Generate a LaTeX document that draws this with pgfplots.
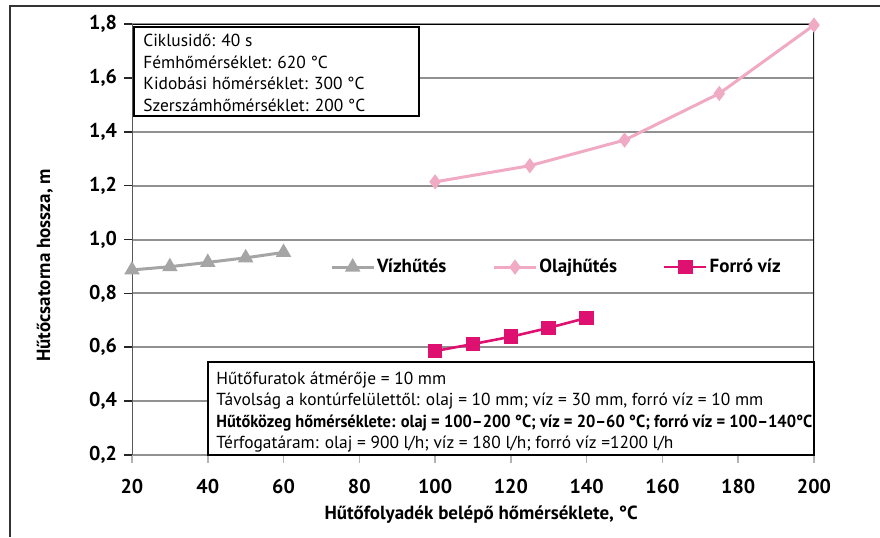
\documentclass[border=0pt]{standalone}
\usepackage{pgfplots}
\pgfplotsset{compat=1.18}
\usepackage{fontspec}
\setmainfont{PT Sans}
\definecolor{wgray}{RGB}{165,165,165}
\definecolor{opink}{RGB}{240,170,195}
\definecolor{hmag}{RGB}{222,16,112}
\definecolor{gridgray}{RGB}{145,145,145}
\newcommand{\boxfont}{\fontsize{8.7}{10}\selectfont}
\newcommand{\labfont}{\bfseries\fontsize{9.5}{11}\selectfont}
\newcommand{\tickfont}{\bfseries\fontsize{10}{11}\selectfont}
\begin{document}
\begin{tikzpicture}[x=1pt,y=1pt]
\path[use as bounding box] (0,0) rectangle (440,268.5);
\draw[line width=0.6pt, black!80] (5,0) -- (5,265.5) -- (440,265.5);
\begin{axis}[
  at={(66pt,41pt)}, anchor=south west, scale only axis,
  width=341pt, height=215.5pt,
  xmin=20, xmax=200, ymin=0.2, ymax=1.8,
  xtick={20,40,60,80,100,120,140,160,180,200},
  ytick={0.2,0.4,0.6,0.8,1.0,1.2,1.4,1.6,1.8},
  axis line style={draw=none},
  ymajorgrids, major grid style={gridgray, line width=1pt},
  xtick pos=bottom, ytick pos=left,
  tick align=outside, major tick length=4pt,
  x tick style={gray!60, line width=0.8pt},
  y tick style={black!85, line width=0.8pt},
  /pgf/number format/assume math mode=true,
  yticklabel style={/pgf/number format/use comma, /pgf/number format/fixed, /pgf/number format/fixed zerofill, /pgf/number format/precision=1},
  tick label style={font=\tickfont},
  xticklabel style={yshift=-4.5pt},
  xlabel={Hűtőfolyadék belépő hőmérséklete, °C},
  ylabel={Hűtőcsatorna hossza, m},
  label style={font=\labfont},
  xlabel style={at={(rel axis cs:0.512,0)}, anchor=center, yshift=-30pt},
  ylabel style={at={(rel axis cs:0,0.44)}, anchor=center, yshift=43.5pt},
  legend columns=3,
  legend cell align=left,
  legend style={draw=none, fill=none, at={(0.29,0.436)}, anchor=west, inner sep=0pt,
    font=\labfont, nodes={inner xsep=1pt},
    /tikz/every even column/.append style={column sep=22pt}},
  legend image code/.code={\draw[mark repeat=2,mark phase=2] plot coordinates {(0pt,0pt) (10.5pt,0pt) (21pt,0pt)};},
]
\draw[black, line width=1.1pt] (axis cs:20,1.8) -- (axis cs:200,1.8);
\draw[black!90, line width=0.9pt] (axis cs:200,0.2) -- (axis cs:200,1.8);
\draw[black!65, line width=0.9pt] (axis cs:20,0.2) -- (axis cs:20,1.8);
\addplot[color=wgray, line width=1.5pt, mark=triangle*, mark size=3pt] coordinates {(20,0.887)(30,0.899)(40,0.915)(50,0.932)(60,0.952)};
\addlegendentry{Vízhűtés}
\addplot[color=opink, line width=1.5pt, mark=diamond*, mark size=2.6pt] coordinates {(100,1.214)(125,1.274)(150,1.369)(175,1.542)(200,1.796)};
\addlegendentry{Olajhűtés}
\addplot[color=hmag, line width=1.3pt, mark=square*, mark size=3pt] coordinates {(100,0.586)(110,0.612)(120,0.639)(130,0.672)(140,0.709)};
\addlegendentry{Forró víz}
\end{axis}
% top info box
\draw[black, line width=0.6pt, fill=white] (67,210.5) rectangle (209.5,255);
\node[anchor=base west, inner sep=0pt, font=\boxfont] at (71.5,245) {Ciklusidő: 40 s};
\node[anchor=base west, inner sep=0pt, font=\boxfont] at (71.5,234) {Fémhőmérséklet: 620 °C};
\node[anchor=base west, inner sep=0pt, font=\boxfont] at (71.5,223.5) {Kidobási hőmérséklet: 300 °C};
\node[anchor=base west, inner sep=0pt, font=\boxfont] at (71.5,212.5) {Szerszámhőmérséklet: 200 °C};
% bottom info box
\draw[black, line width=0.6pt, fill=white] (104,41) rectangle (407,87.5);
\node[anchor=base west, inner sep=0pt, font=\boxfont] at (108,76.5) {Hűtőfuratok átmérője = 10 mm};
\node[anchor=base west, inner sep=0pt, font=\boxfont] at (108,66) {Távolság a kontúrfelülettől: olaj = 10 mm; víz = 30 mm, forró víz = 10 mm};
\node[anchor=base west, inner sep=0pt, font=\boxfont] at (108,55) {\resizebox{298pt}{\height}{\bfseries Hűtőközeg hőmérséklete: olaj = 100–200 °C; víz = 20–60 °C; forró víz = 100–140°C}};
\node[anchor=base west, inner sep=0pt, font=\boxfont] at (108,44.5) {Térfogatáram: olaj = 900 l/h; víz = 180 l/h; forró víz =1200 l/h};
\end{tikzpicture}
\end{document}
